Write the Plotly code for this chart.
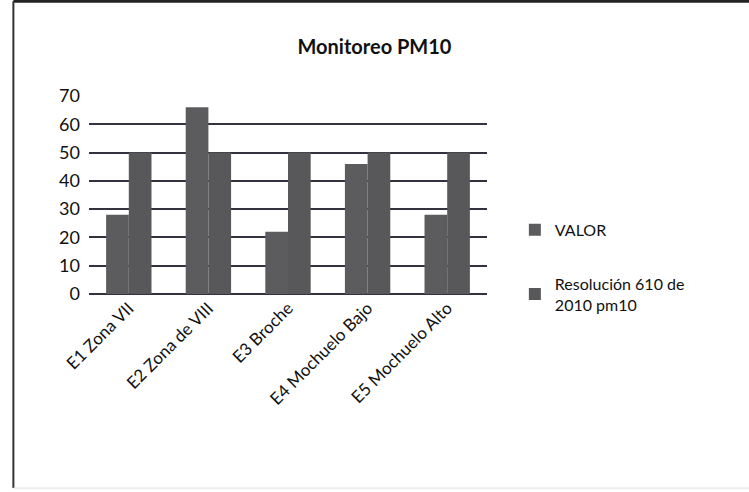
import plotly.graph_objects as go

categories = ["E1 Zona VII", "E2 Zona de VIII", "E3 Broche", "E4 Mochuelo Bajo", "E5 Mochuelo Alto"]
valor = [28, 66, 22, 46, 28]
resolucion = [50, 50, 50, 50, 50]
y_ticks = [0, 10, 20, 30, 40, 50, 60, 70]

FONT = "Lato, 'Open Sans', sans-serif"

fig = go.Figure()
fig.add_trace(go.Bar(x=categories, y=valor, name="VALOR", marker=dict(color="#5c5c5e", line=dict(width=0)),
                     legendgroup="a"))
fig.add_trace(go.Bar(x=categories, y=resolucion, name="Resolución 610 de<br>2010 pm10",
                     marker=dict(color="#58585a", line=dict(width=0)), legendgroup="b"))

fig.update_layout(
    width=749, height=492,
    margin=dict(l=89, r=262, t=96, b=198),
    paper_bgcolor="white", plot_bgcolor="white",
    barmode="group", bargap=0.43, bargroupgap=0,
    font=dict(family=FONT, color="#111111", size=16),
    title=dict(text="<b>Monitoreo PM10</b>", x=0.5, xanchor="center", y=0.905, yanchor="middle",
               font=dict(size=20, family=FONT, color="#111111")),
    showlegend=True,
    legend=dict(x=1.07, xanchor="left", y=0.41, yanchor="top", traceorder="grouped",
                tracegroupgap=30, font=dict(size=16, family=FONT, color="#111111"),
                itemwidth=30, bgcolor="rgba(0,0,0,0)"),
    xaxis=dict(tickangle=-45, showgrid=False, showline=False, ticks="",
               tickfont=dict(size=17, family=FONT, color="#111111")),
    yaxis=dict(range=[0, 70], tickvals=y_ticks, showgrid=True, gridcolor="#33333f", gridwidth=1.6,
               zeroline=True, zerolinecolor="#33333f", zerolinewidth=1.6, ticks="",
               tickfont=dict(size=18, family=FONT, color="#111111"), ticklabelstandoff=8),
    shapes=[
        dict(type="line", xref="paper", yref="paper", x0=-0.19, x1=1.66, y0=1.478, y1=1.478,
             line=dict(color="#222222", width=3)),
        dict(type="line", xref="paper", yref="paper", x0=-0.19, x1=-0.19, y0=1.478, y1=-0.98,
             line=dict(color="#333333", width=2)),
        dict(type="line", xref="paper", yref="paper", x0=-0.19, x1=1.66, y0=-0.98, y1=-0.98,
             line=dict(color="#dddddd", width=1)),
    ],
)

fig.write_html("out.html", config={"displayModeBar": False},
               post_script="document.body.style.margin='0';document.body.style.overflow='hidden';")
